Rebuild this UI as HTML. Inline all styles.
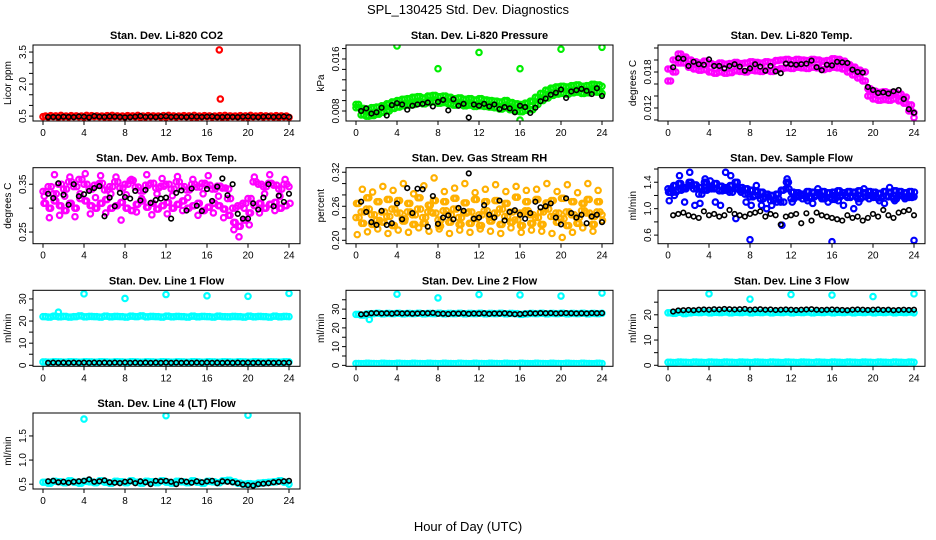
<!DOCTYPE html>
<html><head><meta charset="utf-8"><style>
body{margin:0;background:#fff;}
svg{display:block;font-family:"Liberation Sans",sans-serif;}
</style></head><body>
<svg id="c" width="936" height="540" viewBox="0 0 936 540">
<text x="468" y="14" text-anchor="middle" font-size="13">SPL_130425  Std. Dev. Diagnostics</text>
<text x="468" y="531" text-anchor="middle" font-size="13">Hour of Day (UTC)</text>
</svg>
<script>
// ---- data ----
const xTicks = [0,4,8,12,16,20,24];
// Panel 1: Li-820 CO2
const co2A = [0.47,0.46,0.48,0.45,0.47,0.46,0.48,0.47,0.45,0.46,0.48,0.47,0.46,0.45,0.48,0.47,0.46,0.48,0.47,0.45,0.46,0.47,0.48,0.46,0.45,0.47,0.46,0.48,0.47,0.46,0.45,0.47,0.48,0.46,0.47,0.45,0.46,0.48,0.47,0.46,0.45,0.47,0.48,0.46,0.47,0.46,0.45,0.47,0.44];
const co2B = [0.50,0.52,0.51,0.53,0.50,0.52,0.51,0.50,0.53,0.52,0.51,0.50,0.52,0.53,0.51,0.50,0.52,0.51,0.53,0.50,0.52,0.51,0.50,0.52,0.53,0.51,0.50,0.52,0.51,0.53,0.50,0.52,0.51,0.50,0.52,0.53,0.51,0.50,0.52,0.51,0.53,0.50,0.52,0.51,0.50,0.52,0.51,0.50,0.49];
const co2K = [0.45,0.46,0.45,0.47,0.46,0.45,0.48,0.47,0.44,0.50,0.47,0.46,0.48,0.47,0.46,0.44,0.45,0.47,0.50,0.46,0.47,0.45,0.48,0.49,0.46,0.47,0.46,0.45,0.48,0.47,0.46,0.47,0.48,0.45,0.46,0.47,0.46,0.45,0.47,0.48,0.46,0.45,0.47,0.48,0.46,0.47,0.48,0.46];
const co2OutX = [17.2,17.3];
const co2OutY = [3.6,1.3];
// Panel 2: Pressure
const prsA = [0.0085,0.0074,0.0072,0.0073,0.0075,0.0078,0.0080,0.0084,0.0086,0.0088,0.0089,0.0090,0.0092,0.0091,0.0093,0.0094,0.0092,0.0093,0.0091,0.0089,0.0090,0.0088,0.0089,0.0087,0.0088,0.0087,0.0086,0.0085,0.0083,0.0085,0.0082,0.0080,0.0079,0.0081,0.0082,0.0090,0.0096,0.0100,0.0104,0.0106,0.0107,0.0106,0.0108,0.0109,0.0107,0.0108,0.0110,0.0109,0.0107];
const prsB = [0.0090,0.0084,0.0083,0.0085,0.0086,0.0088,0.0091,0.0094,0.0096,0.0098,0.0099,0.0101,0.0102,0.0100,0.0103,0.0104,0.0102,0.0103,0.0101,0.0099,0.0100,0.0098,0.0099,0.0097,0.0099,0.0097,0.0096,0.0095,0.0094,0.0096,0.0093,0.0091,0.0090,0.0092,0.0095,0.0101,0.0107,0.0112,0.0115,0.0117,0.0118,0.0117,0.0119,0.0120,0.0118,0.0119,0.0121,0.0120,0.0118];
const prsK = [0.0080,0.0084,0.0076,0.0078,0.0085,0.0073,0.0089,0.0092,0.0090,0.0082,0.0088,0.0090,0.0091,0.0093,0.0087,0.0094,0.0097,0.0081,0.0098,0.0088,0.0091,0.0070,0.0090,0.0088,0.0091,0.0087,0.0090,0.0083,0.0086,0.0084,0.0078,0.0088,0.0086,0.0077,0.0085,0.0095,0.0099,0.0105,0.0108,0.0113,0.0100,0.0110,0.0112,0.0114,0.0111,0.0106,0.0115,0.0103];
const prsOutX = [4,8,12,16,20,24,16];
const prsOutY = [0.0180,0.0145,0.0170,0.0145,0.0175,0.0178,0.0066];
// Panel 3: Li-820 Temp
const tmpA = [0.0165,0.0180,0.0195,0.0195,0.0188,0.0185,0.0183,0.0184,0.0180,0.0178,0.0180,0.0178,0.0179,0.0182,0.0181,0.0180,0.0183,0.0182,0.0181,0.0183,0.0181,0.0184,0.0186,0.0187,0.0186,0.0188,0.0187,0.0186,0.0188,0.0187,0.0184,0.0186,0.0188,0.0187,0.0185,0.0180,0.0175,0.0170,0.0165,0.0140,0.0135,0.0133,0.0134,0.0133,0.0135,0.0132,0.0128,0.0115,0.0104];
const tmpB = [0.0185,0.0200,0.0210,0.0205,0.0200,0.0197,0.0195,0.0198,0.0194,0.0192,0.0195,0.0193,0.0194,0.0196,0.0194,0.0195,0.0197,0.0196,0.0195,0.0197,0.0196,0.0199,0.0200,0.0201,0.0199,0.0201,0.0200,0.0199,0.0201,0.0200,0.0198,0.0199,0.0202,0.0201,0.0198,0.0192,0.0188,0.0183,0.0180,0.0152,0.0148,0.0146,0.0147,0.0145,0.0146,0.0143,0.0138,0.0125,0.0112];
const tmpK = [0.0188,0.0203,0.0202,0.0190,0.0197,0.0193,0.0192,0.0201,0.0190,0.0190,0.0186,0.0190,0.0193,0.0189,0.0182,0.0186,0.0193,0.0189,0.0182,0.0190,0.0181,0.0178,0.0194,0.0193,0.0192,0.0193,0.0194,0.0199,0.0188,0.0183,0.0192,0.0191,0.0197,0.0196,0.0195,0.0184,0.0180,0.0179,0.0155,0.0150,0.0145,0.0146,0.0144,0.0148,0.0150,0.0135,0.0118,0.0112];
// Panel 4: Amb. Box Temp
const ambA = [0.335,0.345,0.330,0.350,0.340,0.355,0.345,0.360,0.350,0.340,0.348,0.352,0.338,0.345,0.355,0.342,0.350,0.358,0.344,0.336,0.348,0.352,0.342,0.346,0.350,0.340,0.355,0.345,0.338,0.350,0.344,0.352,0.348,0.340,0.346,0.342,0.320,0.300,0.305,0.310,0.320,0.355,0.350,0.345,0.352,0.348,0.340,0.350,0.345];
const ambB = [0.310,0.300,0.315,0.305,0.295,0.310,0.300,0.320,0.315,0.305,0.300,0.310,0.318,0.300,0.305,0.312,0.300,0.295,0.308,0.315,0.302,0.310,0.298,0.305,0.312,0.300,0.308,0.315,0.300,0.305,0.310,0.295,0.302,0.310,0.305,0.298,0.285,0.270,0.262,0.275,0.290,0.305,0.310,0.300,0.308,0.312,0.300,0.305,0.310];
const ambC = [0.325,0.280,0.370,0.285,0.325,0.365,0.282,0.330,0.372,0.288,0.322,0.368,0.290,0.330,0.365,0.275,0.328,0.360,0.292,0.320,0.370,0.286,0.330,0.362,0.288,0.326,0.366,0.295,0.322,0.360,0.285,0.330,0.368,0.290,0.325,0.280,0.340,0.255,0.240,0.300,0.265,0.365,0.290,0.330,0.370,0.295,0.325,0.360,0.300];
const ambK = [0.330,0.321,0.352,0.328,0.307,0.350,0.325,0.329,0.336,0.342,0.346,0.283,0.322,0.304,0.332,0.323,0.320,0.336,0.316,0.338,0.311,0.317,0.320,0.322,0.278,0.332,0.337,0.295,0.341,0.305,0.294,0.340,0.315,0.345,0.362,0.327,0.350,0.288,0.278,0.278,0.310,0.297,0.322,0.350,0.304,0.326,0.313,0.330];
// Panel 5: Gas Stream RH
const rhA = [0.240,0.250,0.255,0.245,0.235,0.250,0.242,0.255,0.248,0.238,0.250,0.245,0.255,0.240,0.250,0.248,0.236,0.252,0.245,0.255,0.240,0.248,0.250,0.238,0.245,0.252,0.240,0.248,0.255,0.242,0.250,0.236,0.248,0.252,0.245,0.240,0.250,0.255,0.242,0.248,0.238,0.250,0.245,0.240,0.252,0.248,0.242,0.250,0.245];
const rhB = [0.265,0.230,0.275,0.228,0.268,0.232,0.272,0.226,0.270,0.234,0.265,0.228,0.275,0.230,0.262,0.270,0.225,0.268,0.232,0.274,0.228,0.266,0.230,0.272,0.226,0.268,0.234,0.270,0.228,0.265,0.232,0.276,0.226,0.268,0.230,0.272,0.228,0.266,0.270,0.232,0.274,0.226,0.268,0.230,0.265,0.272,0.228,0.268,0.235];
const rhC = [0.210,0.290,0.215,0.285,0.220,0.295,0.212,0.288,0.218,0.300,0.214,0.282,0.222,0.296,0.216,0.310,0.220,0.286,0.212,0.292,0.218,0.300,0.214,0.284,0.220,0.290,0.216,0.298,0.212,0.286,0.222,0.295,0.214,0.288,0.218,0.290,0.216,0.300,0.212,0.286,0.205,0.298,0.214,0.284,0.222,0.300,0.216,0.288,0.240];
const rhK = [0.268,0.250,0.232,0.227,0.252,0.227,0.230,0.265,0.237,0.292,0.248,0.291,0.290,0.224,0.278,0.229,0.240,0.244,0.237,0.257,0.252,0.318,0.238,0.240,0.262,0.245,0.240,0.270,0.235,0.250,0.253,0.245,0.238,0.248,0.268,0.258,0.260,0.265,0.240,0.228,0.274,0.248,0.240,0.245,0.230,0.242,0.245,0.232];
// Panel 6: Sample Flow
const flwA = [1.30,1.25,1.28,1.32,1.35,1.30,1.22,1.28,1.33,1.30,1.27,1.32,1.25,1.30,1.28,1.22,1.18,1.20,1.15,1.18,1.12,1.15,1.10,1.30,1.15,1.18,1.20,1.16,1.18,1.20,1.15,1.17,1.14,1.18,1.20,1.17,1.19,1.15,1.18,1.20,1.17,1.16,1.19,1.18,1.15,1.20,1.18,1.17,1.18];
const flwB = [1.25,1.35,1.38,1.30,1.40,1.36,1.32,1.40,1.30,1.38,1.34,1.28,1.35,1.40,1.32,1.30,1.28,1.26,1.25,1.22,1.20,1.22,1.28,1.40,1.25,1.24,1.22,1.26,1.25,1.24,1.26,1.24,1.25,1.27,1.24,1.26,1.25,1.27,1.24,1.26,1.25,1.23,1.26,1.25,1.27,1.26,1.24,1.26,1.25];
const flwC = [1.12,1.20,1.50,1.10,1.55,1.05,1.08,1.45,1.42,1.10,1.05,1.55,1.50,0.85,1.25,1.10,1.05,1.35,1.05,1.00,1.05,1.10,0.75,1.45,1.10,1.20,1.15,1.12,1.08,1.30,1.15,1.10,1.20,1.12,1.05,1.25,1.00,1.10,1.30,1.15,1.20,1.12,1.08,1.32,1.12,1.20,1.15,1.18,1.20];
const flwK = [0.90,0.92,0.94,0.90,0.88,0.86,0.96,0.90,0.92,0.88,0.90,0.98,0.92,0.90,0.88,0.92,0.94,0.96,0.88,0.92,0.90,0.76,0.88,0.90,0.92,0.78,0.93,0.82,0.94,0.90,0.88,0.86,0.84,0.82,0.90,0.86,0.88,0.82,0.86,0.92,0.88,0.98,0.90,0.86,0.94,0.96,0.98,0.90];
const flwOutX = [8,16,24];
const flwOutY = [0.53,0.50,0.52];
// Panel 7: Line 1 Flow
const l1Hi = [22.0,21.8,22.2,21.9,22.1,21.8,22.0,22.3,21.9,22.1,22.0,21.8,22.2,21.9,22.1,22.0,21.8,22.2,22.0,22.3,21.9,22.1,22.0,21.8,22.2,21.9,22.1,22.0,21.8,22.2,21.9,22.1,22.0,21.8,22.2,22.0,21.9,22.1,22.0,21.8,22.2,21.9,22.1,22.0,21.8,22.2,21.9,22.1,22.0];
const l1Lo = [1.5,1.4,1.6,1.5,1.4,1.6,1.5,1.4,1.6,1.5,1.4,1.6,1.5,1.4,1.6,1.5,1.4,1.6,1.5,1.4,1.6,1.5,1.4,1.6,1.5,1.4,1.6,1.5,1.4,1.6,1.5,1.4,1.6,1.5,1.4,1.6,1.5,1.4,1.6,1.5,1.4,1.6,1.5,1.4,1.6,1.5,1.4,1.6,1.5];
const l1K = [1.1,1.2,1.1,1.2,1.1,1.2,1.1,1.2,1.1,1.2,1.1,1.2,1.1,1.2,1.1,1.2,1.1,1.2,1.1,1.2,1.1,1.2,1.1,1.2,1.1,1.2,1.1,1.2,1.1,1.2,1.1,1.2,1.1,1.2,1.1,1.2,1.1,1.2,1.1,1.2,1.1,1.2,1.1,1.2,1.1,1.2,1.1,1.2];
const l1OutX = [4,8,12,16,20,24,1.5];
const l1OutY = [32.3,30.2,32.0,31.4,31.2,32.5,24.0];
// Panel 8: Line 2 Flow
const l2Hi = [27.2,26.8,27.4,27.6,27.8,27.5,27.7,27.6,27.8,27.5,27.7,27.6,27.8,27.5,27.7,27.6,27.8,27.5,27.7,27.6,27.8,27.5,27.7,27.6,27.8,27.5,27.7,27.6,27.8,27.5,27.7,27.6,27.2,27.5,27.7,27.6,27.8,27.5,27.7,27.6,27.8,27.5,27.7,27.6,27.8,27.5,27.7,27.6,27.8];
const l2Lo = [1.0,0.9,1.1,1.0,0.9,1.1,1.0,0.9,1.1,1.0,0.9,1.1,1.0,0.9,1.1,1.0,0.9,1.1,1.0,0.9,1.1,1.0,0.9,1.1,1.0,0.9,1.1,1.0,0.9,1.1,1.0,0.9,1.1,1.0,0.9,1.1,1.0,0.9,1.1,1.0,0.9,1.1,1.0,0.9,1.1,1.0,0.9,1.1,1.0];
const l2K = [27.2,27.4,27.8,27.9,27.7,27.8,27.6,27.9,27.7,27.8,27.6,27.7,27.9,27.8,28.0,27.5,27.6,27.4,27.7,27.6,27.8,27.5,27.7,27.6,27.8,27.5,27.7,27.6,27.8,27.5,27.3,27.4,27.6,27.8,27.7,27.9,27.8,27.9,27.7,27.8,27.9,27.8,27.7,27.8,27.7,27.9,27.8,27.9];
const l2OutX = [4,8,12,16,20,24,1.3];
const l2OutY = [38.0,36.0,37.8,37.6,37.0,38.6,24.5];
// Panel 9: Line 3 Flow
const l3Hi = [20.8,20.6,21.0,20.5,20.8,21.0,20.9,21.1,20.8,21.0,20.9,21.1,20.8,21.0,20.9,21.1,20.8,21.0,20.9,21.1,20.8,21.0,20.9,21.1,20.8,21.0,20.9,21.1,20.8,21.0,20.9,21.1,20.8,21.0,20.9,21.1,20.8,21.0,20.9,21.1,20.8,21.0,20.9,21.1,20.8,21.0,20.9,21.1,20.8];
const l3Lo = [1.2,1.1,1.3,1.2,1.1,1.3,1.2,1.1,1.3,1.2,1.1,1.3,1.2,1.1,1.3,1.2,1.1,1.3,1.2,1.1,1.3,1.2,1.1,1.3,1.2,1.1,1.3,1.2,1.1,1.3,1.2,1.1,1.3,1.2,1.1,1.3,1.2,1.1,1.3,1.2,1.1,1.3,1.2,1.1,1.3,1.2,1.1,1.3,1.2];
const l3K = [21.3,21.7,21.8,21.9,21.8,22.0,22.1,22.0,22.2,22.1,22.3,22.2,22.1,22.2,22.3,22.0,22.1,22.2,22.0,22.1,21.9,22.0,22.1,22.0,21.9,22.0,22.1,22.2,22.0,21.9,22.0,22.1,22.0,21.9,21.8,22.0,22.1,22.0,21.9,22.0,22.1,21.9,22.0,21.8,21.9,22.0,21.9,22.0];
const l3OutX = [4,8,12,16,20,24];
const l3OutY = [28.3,26.2,28.0,27.8,27.2,28.3];
// Panel 10: Line 4 (LT) Flow
const l4A = [0.54,0.52,0.56,0.55,0.53,0.57,0.54,0.52,0.56,0.55,0.53,0.57,0.54,0.52,0.56,0.55,0.53,0.57,0.54,0.52,0.56,0.55,0.53,0.57,0.54,0.52,0.56,0.55,0.53,0.57,0.54,0.52,0.56,0.55,0.53,0.57,0.58,0.55,0.52,0.50,0.51,0.50,0.52,0.53,0.54,0.55,0.57,0.54,0.50];
const l4K = [0.56,0.57,0.54,0.55,0.53,0.55,0.56,0.57,0.60,0.55,0.56,0.58,0.54,0.53,0.52,0.55,0.56,0.52,0.56,0.54,0.50,0.57,0.56,0.57,0.55,0.50,0.57,0.55,0.53,0.56,0.54,0.56,0.57,0.52,0.56,0.55,0.54,0.52,0.49,0.48,0.47,0.50,0.51,0.52,0.54,0.55,0.56,0.57];
const l4OutX = [4,12,20];
const l4OutY = [1.85,1.92,1.93];

// ---- layout & drawing ----
const NS = 'http://www.w3.org/2000/svg';
const svg = document.getElementById('c');
const colLeft = [33, 346, 658];
const rowTop = [45, 167.7, 290.3, 413];
const W = 267, Hh = 76;
const RED='#ff0000', GRN='#00ee00', MAG='#ff00ff', ORG='#ffb000', BLU='#0000ff', CYN='#00ffff', BLK='#000000';

function mk(tag, attrs, parent) {
  const e = document.createElementNS(NS, tag);
  for (const k in attrs) e.setAttribute(k, attrs[k]);
  (parent || svg).appendChild(e);
  return e;
}
const halfHours = (n, off) => Array.from({length:n}, (_, i) => i * 24 / (n - 1) + (off || 0));
const blackHours = n => Array.from({length:n}, (_, i) => 0.5 + i * 0.5);

function drawPanel(p, col, row) {
  const L = colLeft[col], T = rowTop[row];
  const g = mk('g', {});
  
  
  const xs = h => L + 10 + h * (246 / 24);
  const ys = v => T + Hh - (v - p.yMin) / (p.yMax - p.yMin) * Hh;
  const t = mk('text', {x: L + W/2, y: T - 6, 'text-anchor':'middle', 'font-size':'11', 'font-weight':'bold'}, g);
  t.textContent = p.title;
  
  
  xTicks.forEach(h => {
    mk('line', {x1: xs(h), x2: xs(h), y1: T+Hh, y2: T+Hh+4, stroke:'#000'}, g);
    const tl = mk('text', {x: xs(h), y: T+Hh+15, 'text-anchor':'middle', 'font-size':'10'}, g);
    tl.textContent = h;
    
    
  });
  p.yTicks.forEach(v => {
    const y = ys(v);
    mk('line', {x1: L-4, x2: L, y1: y, y2: y, stroke:'#000'}, g);
  });
  p.yLabels.forEach((lab, i) => {
    const y = ys(p.yLabelVals[i]);
    const tl = mk('text', {x: L-7, y: y, 'text-anchor':'middle', 'font-size':'10', transform:`rotate(-90 ${L-7} ${y})`}, g);
    tl.textContent = lab;
    
    
  });
  const ty = T + Hh/2;
  const yt = mk('text', {x: L-22, y: ty, 'text-anchor':'middle', 'font-size':'10', transform:`rotate(-90 ${L-22} ${ty})`}, g);
  yt.textContent = p.yTitle;
  
  
  const clip = 'clip' + col + row;
  const cp = mk('clipPath', {id: clip}, g);
  mk('rect', {x: L, y: T, width: W, height: Hh}, cp);
  const sg = mk('g', {'clip-path': `url(#${clip})`}, g);
  p.series.forEach(s => {
    const hrs = s.x || (s.black ? blackHours(s.y.length) : halfHours(s.y.length, s.off));
    s.y.forEach((v, i) => {
      if (hrs[i] > 24.1) return;
      const c = mk('circle', {cx: xs(hrs[i]), cy: ys(v), r: s.black ? 2.3 : 2.7, fill:'none', stroke: s.color, 'stroke-width': s.black ? 1.6 : 2.2}, sg);
      
      
    });
  });
  const box = mk('rect', {x: L, y: T, width: W, height: Hh, fill:'none', stroke:'#000'}, g);
  
  
}

const panels = [
  {name:'panel-co2', title:'Stan. Dev. Li-820 CO2', yTitle:'Licor ppm', yMin:0.27, yMax:3.83, yTicks:[0.5,1,1.5,2,2.5,3,3.5], yLabels:['0.5','2.0','3.5'], yLabelVals:[0.5,2,3.5],
   series:[{y:co2A,color:RED},{y:co2B,color:RED,off:0.25},{x:co2OutX,y:co2OutY,color:RED},{y:co2K,color:BLK,black:true}]},
  {name:'panel-pressure', title:'Stan. Dev. Li-820 Pressure', yTitle:'kPa', yMin:0.00646, yMax:0.01815, yTicks:[0.008,0.0096,0.0112,0.0128,0.0144,0.016,0.0176], yLabels:['0.008','0.016'], yLabelVals:[0.008,0.016],
   series:[{y:prsA,color:GRN},{y:prsB,color:GRN,off:0.25},{y:prsA,color:GRN,off:0.25},{y:prsB,color:GRN},{x:prsOutX,y:prsOutY,color:GRN},{y:prsK,color:BLK,black:true}]},
  {name:'panel-li820-temp', title:'Stan. Dev. Li-820 Temp.', yTitle:'degrees C', yMin:0.00983, yMax:0.0225, yTicks:[0.010,0.012,0.014,0.016,0.018,0.020,0.022], yLabels:['0.012','0.018'], yLabelVals:[0.012,0.018],
   series:[{y:tmpA,color:MAG},{y:tmpB,color:MAG,off:0.25},{y:tmpA,color:MAG,off:0.25},{y:tmpB,color:MAG},{y:tmpK,color:BLK,black:true}]},
  {name:'panel-amb-box-temp', title:'Stan. Dev. Amb. Box Temp.', yTitle:'degrees C', yMin:0.2256, yMax:0.3846, yTicks:[0.25,0.30,0.35], yLabels:['0.25','0.35'], yLabelVals:[0.25,0.35],
   series:[{y:ambA,color:MAG},{y:ambB,color:MAG,off:0.25},{y:ambC,color:MAG,off:0.12},{y:ambA,color:MAG,off:0.3},{y:ambB,color:MAG,off:0.1},{y:ambK,color:BLK,black:true}]},
  {name:'panel-gas-stream-rh', title:'Stan. Dev. Gas Stream RH', yTitle:'percent', yMin:0.194, yMax:0.328, yTicks:[0.20,0.22,0.24,0.26,0.28,0.30,0.32], yLabels:['0.20','0.26','0.32'], yLabelVals:[0.20,0.26,0.32],
   series:[{y:rhA,color:ORG},{y:rhB,color:ORG,off:0.25},{y:rhC,color:ORG,off:0.12},{y:rhA,color:ORG,off:0.3},{y:rhB,color:ORG,off:0.05},{y:rhK,color:BLK,black:true}]},
  {name:'panel-sample-flow', title:'Stan. Dev. Sample Flow', yTitle:'ml/min', yMin:0.47, yMax:1.62, yTicks:[0.6,0.8,1.0,1.2,1.4,1.6], yLabels:['0.6','1.0','1.4'], yLabelVals:[0.6,1.0,1.4],
   series:[{y:flwA,color:BLU},{y:flwB,color:BLU,off:0.25},{y:flwC,color:BLU,off:0.12},{y:flwA,color:BLU,off:0.3},{y:flwB,color:BLU,off:0.05},{x:flwOutX,y:flwOutY,color:BLU},{y:flwK,color:BLK,black:true}]},
  {name:'panel-line1-flow', title:'Stan. Dev. Line 1 Flow', yTitle:'ml/min', yMin:-0.45, yMax:33.9, yTicks:[0,5,10,15,20,25,30], yLabels:['0','10','20','30'], yLabelVals:[0,10,20,30],
   series:[{y:l1Hi,color:CYN},{y:l1Hi,color:CYN,off:0.25},{y:l1Lo,color:CYN},{y:l1Lo,color:CYN,off:0.25},{x:l1OutX,y:l1OutY,color:CYN},{y:l1K,color:BLK,black:true}]},
  {name:'panel-line2-flow', title:'Stan. Dev. Line 2 Flow', yTitle:'ml/min', yMin:-0.5, yMax:40.05, yTicks:[0,5,10,15,20,25,30,35], yLabels:['0','10','20','30'], yLabelVals:[0,10,20,30],
   series:[{y:l2Hi,color:CYN},{y:l2Hi,color:CYN,off:0.25},{y:l2Lo,color:CYN},{y:l2Lo,color:CYN,off:0.25},{x:l2OutX,y:l2OutY,color:CYN},{y:l2K,color:BLK,black:true}]},
  {name:'panel-line3-flow', title:'Stan. Dev. Line 3 Flow', yTitle:'ml/min', yMin:-0.4, yMax:29.7, yTicks:[0,5,10,15,20,25], yLabels:['0','10','20'], yLabelVals:[0,10,20],
   series:[{y:l3Hi,color:CYN},{y:l3Hi,color:CYN,off:0.25},{y:l3Lo,color:CYN},{y:l3Lo,color:CYN,off:0.25},{x:l3OutX,y:l3OutY,color:CYN},{y:l3K,color:BLK,black:true}]},
  {name:'panel-line4-flow', title:'Stan. Dev. Line 4 (LT) Flow', yTitle:'ml/min', yMin:0.40, yMax:1.976, yTicks:[0.5,1.0,1.5], yLabels:['0.5','1.0','1.5'], yLabelVals:[0.5,1.0,1.5],
   series:[{y:l4A,color:CYN},{y:l4A,color:CYN,off:0.25},{x:l4OutX,y:l4OutY,color:CYN},{y:l4K,color:BLK,black:true}]}
];
panels.forEach((p, i) => drawPanel(p, i % 3, Math.floor(i / 3)));
</script>
</body></html>
